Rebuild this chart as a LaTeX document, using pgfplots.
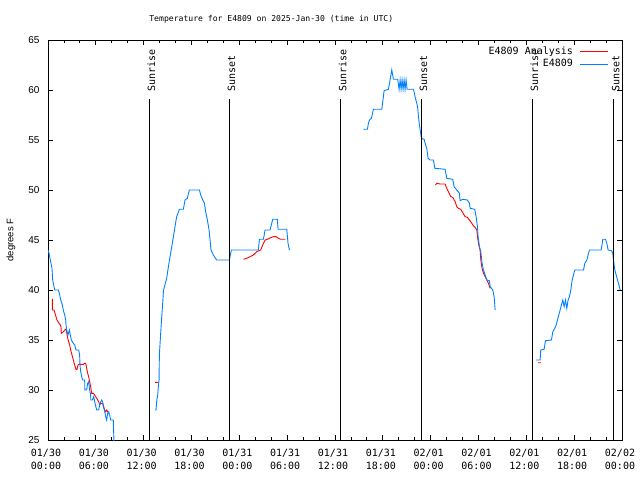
\documentclass[border=0pt]{standalone}
\usepackage{pgfplots}
\pgfplotsset{compat=1.18}
\usepackage{fontspec}
\setmainfont{DejaVu Sans Mono}
\newfontfamily\sansf{Liberation Sans}
\definecolor{obsblue}{RGB}{0,128,255}
\definecolor{anared}{RGB}{255,0,0}
\begin{document}
\begin{tikzpicture}
\useasboundingbox (0,0) rectangle (640pt,480pt);
\begin{axis}[
 at={(48pt,40pt)}, anchor=south west,
 scale only axis, width=574pt, height=400pt,
 xmin=0, xmax=72, ymin=25, ymax=65,
 xtick={0,6,...,72},
 xticklabels={{01/30\\00:00},{01/30\\06:00},{01/30\\12:00},{01/30\\18:00},{01/31\\00:00},{01/31\\06:00},{01/31\\12:00},{01/31\\18:00},{02/01\\00:00},{02/01\\06:00},{02/01\\12:00},{02/01\\18:00},{02/02\\00:00}},
 minor x tick num=2,
 ytick={25,30,...,65},
 major tick length=5pt, minor tick length=3pt,
 tick style={black, line width=0.8pt},
 axis line style={line width=0.8pt},
 xticklabel style={font=\fontsize{10}{12.3}\selectfont, align=center, yshift=-6pt, xshift=-2pt},
 yticklabel style={font=\sansf\fontsize{10}{12}\selectfont, xshift=-5pt},
 /pgf/number format/assume math mode=true,
 ylabel={degrees F},
 ylabel style={font=\sansf\fontsize{9.5}{11}\selectfont, at={(axis description cs:-0.0645,0.5)}, anchor=center},
 title={Temperature for E4809 on 2025-Jan-30 (time in UTC)},
 title style={font=\fontsize{8.1}{10}\selectfont, at={(axis description cs:0.389,1)}, anchor=base, yshift=12.5pt},
 legend plot pos=right,
 legend cell align=right,
 legend style={draw=none, fill=none, at={(axis description cs:0.9774,0.98375)}, anchor=north east, inner sep=0pt, font=\fontsize{10}{12}\selectfont, row sep=2.7pt, column sep=7pt, nodes={inner sep=0pt, text height=7.5pt, text depth=2.5pt}},
 legend image code/.code={\draw[#1] (0pt,0pt) -- (28pt,0pt);},
 unbounded coords=jump,
]
\addplot[anared, line width=0.9pt] coordinates {
(0.544,39.1) (0.544,38.0) (0.753,38.0) (0.878,37.67) (1.004,37.33) (1.129,37.0) (1.255,36.83) (1.380,36.67) (1.547,36.5) (1.631,36.33) (1.673,35.67) (1.924,35.83) (2.175,36.07) (2.300,36.0) (2.426,35.33) (2.593,34.83) (2.719,34.5) (2.844,34.0) (3.011,33.5) (3.179,33.0) (3.346,32.5) (3.513,32.07) (3.639,32.07) (3.764,32.5) (3.848,32.57) (4.433,32.57) (4.601,32.67) (4.726,32.67) (4.852,32.17) (4.977,31.67) (5.102,31.33) (5.228,30.83) (5.353,30.33) (5.479,29.67) (5.688,29.67) (5.855,29.5) (5.981,29.33) (6.106,29.17) (6.232,29.0) (6.357,28.83) (6.483,28.5) (6.608,28.67) (6.859,28.67) (6.985,28.33) (7.110,28.0) (7.236,27.83) (7.361,28.0) (7.487,27.83) (7.612,27.67)
(7.7,nan)
(13.43,30.77) (13.84,30.77)
(14,nan)
(24.51,43.07) (24.93,43.17) (25.35,43.33) (25.76,43.5) (26.18,43.83) (26.68,44.0) (26.93,44.5) (27.23,45.0) (27.52,45.07) (27.85,45.2) (28.27,45.33) (28.61,45.33) (28.90,45.17) (29.19,45.07) (29.78,45.07)
(30,nan)
(48.60,50.5) (48.77,50.67) (49.18,50.6) (49.81,50.6) (50.02,50.17) (50.23,49.83) (50.52,49.33) (50.77,49.27) (51.07,48.83) (51.28,48.33) (51.48,48.17) (51.78,48.07) (52.03,47.73) (52.32,47.33) (52.61,47.27) (52.86,47.0) (53.16,46.67) (53.37,46.4) (53.58,46.27) (53.79,46.0) (53.87,45.33) (54.04,44.5) (54.20,44.0) (54.29,43.0) (54.45,42.17) (54.62,41.67) (54.83,41.33) (55.04,41.0) (55.25,40.67) (55.46,40.17)
(56,nan)
(61.48,32.73) (61.81,32.73)
};
\addlegendentry{E4809 Analysis}
\addplot[obsblue, line width=0.9pt] coordinates {
(0,44.0) (0.126,43.67) (0.25,43.17) (0.376,42.67) (0.50,42.17) (0.586,41.0) (0.71,40.5) (0.836,40.0) (1.30,40.0) (1.42,39.67) (1.55,39.17) (1.67,38.83) (1.80,38.5) (1.92,38.0) (2.09,37.5) (2.22,37.0) (2.26,36.5) (2.34,36.0) (2.51,35.5) (2.68,36.0) (2.80,35.5) (2.93,35.0) (3.18,34.67) (3.35,34.5) (3.51,34.0) (3.85,34.0) (3.97,33.5) (4.01,32.5) (4.10,31.83) (4.23,31.33) (4.35,31.0) (4.60,31.0) (4.62,30.0) (4.85,30.0) (4.98,30.67) (5.10,30.83) (5.23,30.0) (5.35,29.5) (5.37,29.0) (5.56,29.0) (5.73,29.33) (5.90,28.67) (6.11,28.0) (6.36,28.0) (6.52,28.67) (6.73,29.0) (6.86,28.83) (6.94,28.33) (7.07,28.0) (7.24,27.33) (7.36,27.0) (7.49,27.67) (7.61,27.83) (7.74,27.5) (7.86,27.0) (8.19,27.0) (8.23,26.0) (8.27,25.0) (8.30,24.0)
(9,nan)
(13.43,28.0) (13.55,28.0) (13.64,28.93) (13.76,29.5) (13.84,30.33) (13.93,31.0) (13.97,33.5) (14.12,35.5) (14.24,37.0) (14.37,38.5) (14.49,40.0) (14.89,41.17) (15.10,42.33) (15.31,43.33) (15.52,44.33) (15.73,45.33) (15.93,46.33) (16.14,47.33) (16.48,48.07) (16.98,48.07) (17.19,49.0) (17.48,49.17) (17.73,50.0) (18.99,50.0) (19.16,49.5) (19.41,49.0) (19.62,48.67) (19.78,47.83) (20.03,46.83) (20.20,46.0) (20.33,45.0) (20.45,44.0) (20.74,43.5) (21.16,43.0) (22.75,43.0) (22.84,43.33) (23.00,44.0) (26.39,44.0) (26.52,45.07) (27.02,45.07) (27.23,46.0) (27.85,46.0) (28.19,47.07) (28.77,47.07) (28.86,46.07) (29.95,46.07) (30.11,44.67) (30.28,44.0)
(31,nan)
(39.56,56.07) (40.07,56.07) (40.19,56.67) (40.32,57.0) (40.57,57.17) (40.82,58.07) (41.87,58.07) (41.99,58.83) (42.16,59.93) (42.70,60.07) (42.91,61.0) (43.12,62.0) (43.33,61.07) (43.87,61.07) (44.04,60.07) (44.17,61.0) (44.29,60.07) (44.42,61.0) (44.54,60.07) (44.67,61.0) (44.79,60.07) (44.92,61.0) (45.04,60.07) (45.84,60.07) (45.96,59.67) (46.09,59.17) (46.26,58.67) (46.38,58.17) (46.47,57.33) (46.59,56.5) (46.72,55.83) (46.84,55.17) (47.18,55.07) (47.30,54.67) (47.51,54.17) (47.68,53.17) (47.93,53.0) (48.35,53.0) (48.52,52.17) (49.81,52.07) (50.02,51.17) (50.77,51.07) (50.94,50.33) (51.28,50.0) (51.61,49.67) (51.69,48.93) (52.03,49.07) (52.61,49.0) (52.86,48.67) (52.95,48.17) (53.53,48.07) (53.70,47.33) (53.87,46.33) (53.95,45.33) (54.12,44.33) (54.29,43.83) (54.45,42.67) (54.62,42.0) (54.83,41.5) (55.04,41.0) (55.37,40.93) (55.46,40.33) (55.79,40.0) (55.96,39.33) (56.09,38.0)
(57,nan)
(61.23,33.0) (61.73,33.0) (61.81,34.0) (62.23,34.07) (62.40,34.93) (63.15,35.0) (63.32,35.83) (63.57,36.17) (63.74,36.5) (63.91,37.0) (64.07,37.5) (64.24,38.0) (64.41,38.5) (64.58,39.0) (64.74,38.33) (64.91,39.0) (65.08,38.17) (65.24,39.0) (65.41,39.33) (65.58,40.0) (65.75,41.0) (65.91,41.5) (66.08,42.0) (67.17,42.0) (67.34,42.67) (67.59,43.0) (67.75,43.5) (67.92,44.0) (69.39,44.0) (69.51,44.6) (69.59,45.07) (69.93,45.07) (70.10,44.67) (70.26,44.0) (70.68,43.93) (70.85,43.67) (70.93,43.0) (71.10,42.0) (71.27,41.5) (71.44,41.0) (71.61,40.5) (71.77,40.0)
};
\addlegendentry{E4809}
\addplot[black, line width=0.8pt, forget plot] coordinates {(12.71,25) (12.71,59.1)};
\addplot[black, line width=0.8pt, forget plot] coordinates {(22.75,25) (22.75,59.1)};
\addplot[black, line width=0.8pt, forget plot] coordinates {(36.70,25) (36.70,59.1)};
\addplot[black, line width=0.8pt, forget plot] coordinates {(46.84,25) (46.84,59.1)};
\addplot[black, line width=0.8pt, forget plot] coordinates {(60.77,25) (60.77,59.1)};
\addplot[black, line width=0.8pt, forget plot] coordinates {(70.97,25) (70.97,59.1)};
\begin{scope}[every node/.style={rotate=90, anchor=west, inner sep=0pt, font=\fontsize{10}{12}\selectfont}]
\node at ([xshift=2pt]axis cs:12.71,59.8) {Sunrise};
\node at ([xshift=2pt]axis cs:22.75,59.8) {Sunset};
\node at ([xshift=2pt]axis cs:36.70,59.8) {Sunrise};
\node at ([xshift=2pt]axis cs:46.84,59.8) {Sunset};
\node at ([xshift=2pt]axis cs:60.77,59.8) {Sunrise};
\node at ([xshift=2pt]axis cs:70.97,59.8) {Sunset};
\end{scope}
\end{axis}
\end{tikzpicture}
\end{document}
